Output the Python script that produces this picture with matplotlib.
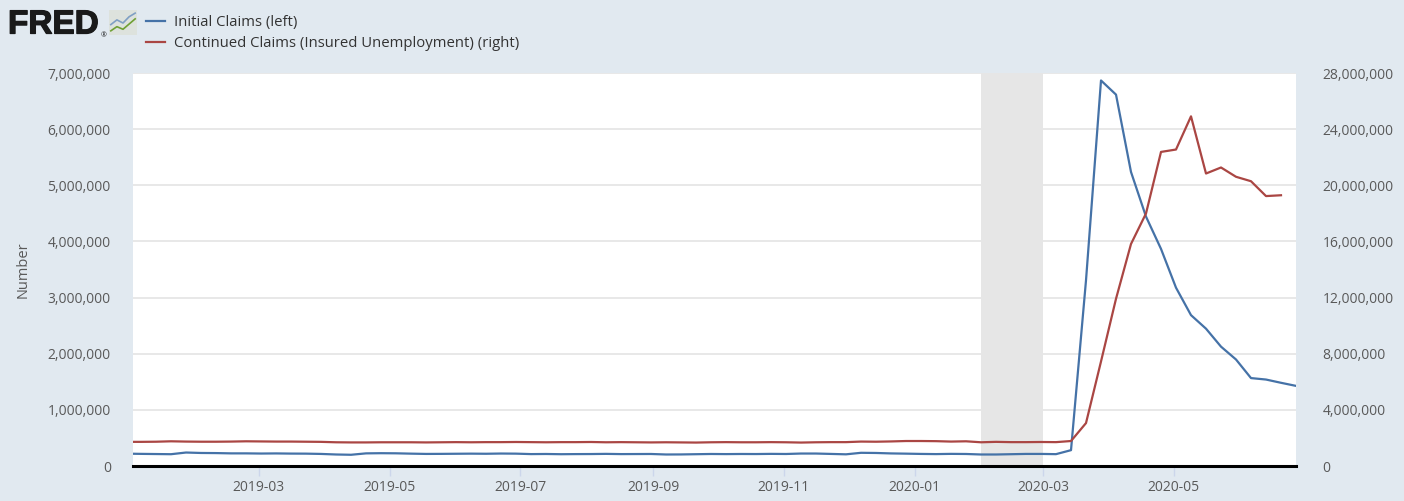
import numpy as np
import pandas as pd
import matplotlib
matplotlib.use("Agg")
from matplotlib import pyplot as plt
import matplotlib.dates as mdates
import matplotlib.patheffects as pe
from matplotlib.ticker import FuncFormatter, MultipleLocator

plt.rcParams['font.family'] = ['Open Sans', 'DejaVu Sans']

# weekly data, week ending Saturday
dates = pd.date_range('2018-12-29', '2020-06-27', freq='W-SAT')

# Initial claims, thousands
initial_k = [220,
             216, 213, 210, 240, 232, 230, 225, 225, 222, 224, 221, 220, 215,
             205, 200, 225, 228, 226, 220, 215, 216, 218, 220, 218, 222, 220,
             212, 214, 210, 212, 213, 216, 212, 213, 214, 205, 206, 210, 214,
             212, 214, 213, 216, 214, 222, 222, 215, 208, 235, 232, 224, 220,
             215, 212, 216, 214, 205, 205, 210, 215, 215, 211, 282, 3307, 6867,
             6615, 5237, 4442, 3867, 3176, 2687, 2446, 2126, 1897, 1566, 1540,
             1482, 1427]

# Continued claims, millions (one week behind)
continued_m = [1.72,
               1.72, 1.73, 1.76, 1.74, 1.73, 1.73, 1.74, 1.76, 1.75, 1.74, 1.74,
               1.73, 1.72, 1.69, 1.68, 1.68, 1.69, 1.69, 1.69, 1.68, 1.69, 1.70,
               1.69, 1.70, 1.70, 1.71,
               1.70, 1.69, 1.70, 1.70, 1.71, 1.69, 1.70, 1.69, 1.68, 1.69, 1.68,
               1.67, 1.69, 1.70, 1.69, 1.69, 1.70, 1.69, 1.67, 1.69, 1.70, 1.70,
               1.74, 1.73, 1.75, 1.78,
               1.78, 1.77, 1.74, 1.76, 1.69, 1.72, 1.70, 1.70, 1.71, 1.70, 1.78,
               3.059, 7.446, 11.914, 15.819, 17.992, 22.377, 22.548, 24.912,
               20.838, 21.268, 20.606, 20.289, 19.231, 19.290]

initial = np.array(initial_k) * 1000
continued = np.array(continued_m) * 1e6

recession_start = pd.Timestamp('2020-02-01')
recession_end = pd.Timestamp('2020-03-01')

bg = '#e1e9f0'
blue = '#4572a7'
red = '#aa4643'
txt = '#595959'

fig = plt.figure(figsize=(14.04, 5.01), dpi=100, facecolor=bg)
ax = fig.add_axes([133/1404, 1 - 466/501, (1296 - 133)/1404, (466 - 73)/501])
ax.set_facecolor('white')
ax2 = ax.twinx()

ax.axvspan(recession_start, recession_end, color='#e6e6e6', lw=0, zorder=0)
ax.plot(dates, initial, color=blue, lw=1.6, zorder=3, label='Initial Claims (left)')
ax2.plot(dates[:len(continued)], continued, color=red, lw=1.6, zorder=3,
         label='Continued Claims (Insured Unemployment) (right)')

ax.set_xlim(pd.Timestamp('2019-01-01 06:00'), dates[-1])
ax.set_ylim(0, 7e6)
ax2.set_ylim(0, 28e6)
ax.yaxis.set_major_locator(MultipleLocator(1e6))
ax2.yaxis.set_major_locator(MultipleLocator(4e6))
fmt = FuncFormatter(lambda v, p: f'{int(v):,}')
ax.yaxis.set_major_formatter(fmt)
ax2.yaxis.set_major_formatter(fmt)
ax.grid(axis='y', color='#e6e6e6', lw=1.3, zorder=1)
ax.set_axisbelow(True)

ax.xaxis.set_major_locator(mdates.MonthLocator(bymonth=[1, 3, 5, 7, 9, 11]))
ax.xaxis.set_major_formatter(mdates.DateFormatter('%Y-%m'))
ax.tick_params(axis='x', colors='#ccd6eb', length=7, width=1, labelcolor=txt,
               labelsize=10, pad=3)
ax.tick_params(axis='y', length=0, labelcolor=txt, labelsize=10, pad=16)
ax2.tick_params(axis='y', length=0, labelcolor=txt, labelsize=10, pad=19)

for a in (ax, ax2):
    for s in a.spines.values():
        s.set_visible(False)
ax.spines['bottom'].set_visible(True)
ax.spines['bottom'].set_color('black')
ax.spines['bottom'].set_linewidth(2.2)
ax.spines['bottom'].set_zorder(5)

ax.set_ylabel('Number', color=txt, fontsize=10.5, labelpad=12)

# FRED logo
fig.text(8/1404, 1 - 25/501, 'FRED', fontsize=24, fontweight='bold',
         family=['Liberation Sans', 'DejaVu Sans'], color='#1a1a1a', va='center',
         path_effects=[pe.withStroke(linewidth=0.9, foreground='#1a1a1a')])
fig.text(101/1404, 1 - 37/501, '®', fontsize=5, color='#1a1a1a')
icon = fig.add_axes([109/1404, 1 - 35/501, 28/1404, 25/501])
icon.plot([0, 1, 2, 3, 4], [2.0, 2.9, 2.3, 3.5, 4.2], color='#7f9fc4', lw=1.2)
icon.plot([0, 1, 2, 3, 4], [0.8, 1.6, 1.1, 2.1, 3.1], color='#6fa035', lw=1.2)
icon.set_xlim(-0.3, 4.3)
icon.set_ylim(0, 4.8)
icon.set_xticks([])
icon.set_yticks([])
icon.set_facecolor('#dde2dd')
for s in icon.spines.values():
    s.set_visible(False)

h1, l1 = ax.get_legend_handles_labels()
h2, l2 = ax2.get_legend_handles_labels()
fig.legend(h1 + h2, l1 + l2, loc='upper left', bbox_to_anchor=(140/1404, 1 - 9/501),
           frameon=False, fontsize=10.7, handlelength=1.3, handletextpad=0.6,
           labelspacing=0.42, labelcolor='#333333', borderaxespad=0)

fig.savefig('out.png', dpi=100, facecolor=bg)
